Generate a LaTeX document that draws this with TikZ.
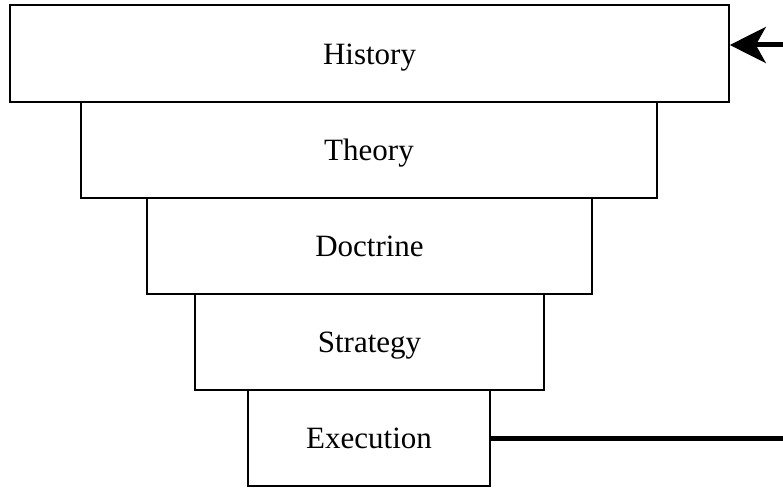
\documentclass[tikz,border=0pt]{standalone}
\usepackage{fontspec}
\setmainfont{Liberation Serif}
\usetikzlibrary{arrows.meta}
\begin{document}
\begin{tikzpicture}[x=1pt,y=-1pt,
  layer/.style={draw=black, line width=1.6pt, fill=white, inner sep=0pt,
    minimum height=96pt, text height=21pt, text depth=0pt,
    font=\fontsize{31}{37}\selectfont},
  conn/.style={line width=5pt, draw=black}]
\useasboundingbox (0,0) rectangle (783,487);
\node[layer, minimum width=719pt, minimum height=97pt] (hist) at (369.5,53.5) {History};
\node[layer, minimum width=576pt] (theo) at (369,150) {Theory};
\node[layer, minimum width=445pt] (doct) at (369.5,246) {Doctrine};
\node[layer, minimum width=349pt] (stra) at (369.5,342) {Strategy};
\node[layer, minimum width=242pt] (exec) at (369,438) {Execution};
\coordinate (inR) at (783,45);
\coordinate (outR) at (783,438);
\draw[conn, -{Stealth[length=36pt,width=36pt,inset=10pt]}] (inR) -- (inR -| hist.east);
\draw[conn] (exec.east) -- (outR);
\end{tikzpicture}
\end{document}
